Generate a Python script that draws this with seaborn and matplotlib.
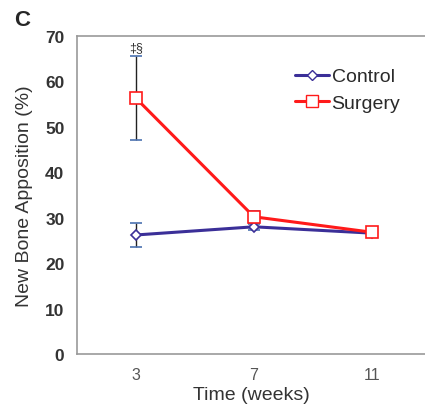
import matplotlib
matplotlib.use("Agg")
import matplotlib.pyplot as plt
import seaborn as sns
import pandas as pd
from matplotlib.lines import Line2D

weeks = [3, 7, 11]
control = [26.2, 28.0, 26.6]
control_err = [2.6, 0.6, 0.5]
surgery = [56.3, 30.2, 26.8]
surgery_err = [9.2, 1.3, 0.5]
x_ticks = [3, 7, 11]
y_ticks = [0, 10, 20, 30, 40, 50, 60, 70]

sns.set_theme(style="white")
plt.rcParams['font.family'] = ['Liberation Sans', 'DejaVu Sans']

df = pd.DataFrame({
    "Time": weeks * 2,
    "Value": control + surgery,
    "Group": ["Control"] * 3 + ["Surgery"] * 3,
})

fig = plt.figure(figsize=(4.25, 4.10), dpi=100)
ax = fig.add_axes([0.181, 0.134, 0.819, 0.776])

for vals, errs in [(control, control_err), (surgery, surgery_err)]:
    ax.errorbar(weeks, vals, yerr=errs, fmt="none", ecolor="#222222",
                elinewidth=1.0, capsize=4, capthick=1.0, zorder=1)

palette = {"Control": "#3b2f98", "Surgery": "#ff1a1a"}
sns.lineplot(data=df, x="Time", y="Value", hue="Group", style="Group",
             markers={"Control": "D", "Surgery": "s"}, dashes=False,
             palette=palette, linewidth=2.2, ax=ax, legend=False, zorder=3)
for line in ax.get_lines():
    c = line.get_color()
    if line.get_marker() == "D":
        line.set_markersize(5.5)
    elif line.get_marker() == "s":
        line.set_markersize(8.5)
    line.set_markerfacecolor("white")
    line.set_markeredgecolor(c)
    line.set_markeredgewidth(1.2)

handles = [
    Line2D([], [], color=palette["Control"], marker="D", markersize=5.5,
           markerfacecolor="white", markeredgecolor=palette["Control"], lw=2.2),
    Line2D([], [], color=palette["Surgery"], marker="s", markersize=8.5,
           markerfacecolor="white", markeredgecolor=palette["Surgery"], lw=2.2),
]
leg = ax.legend(handles, ["Control", "Surgery"], loc="upper left",
                bbox_to_anchor=(0.575, 0.955), frameon=False, fontsize=14,
                handlelength=1.75, handletextpad=0.15, labelspacing=0.45)
for t in leg.get_texts():
    t.set_color("#2a2a2a")

ax.set_xlim(1, 12.8)
ax.set_ylim(0, 70)
ax.set_xticks(x_ticks)
ax.set_yticks(y_ticks)
ax.tick_params(axis="x", labelsize=11.5, labelcolor="#555555", length=0, pad=9)
ax.tick_params(axis="y", labelsize=12.5, labelcolor="#333333", length=0, pad=9)
for lab in ax.get_yticklabels():
    lab.set_fontweight("bold")
ax.set_xlabel("Time (weeks)", fontsize=14, color="#333333", labelpad=3)
ax.set_ylabel("New Bone Apposition (%)", fontsize=14, color="#333333", labelpad=9)

for s in ["left", "bottom", "top"]:
    ax.spines[s].set_color("#999999")
    ax.spines[s].set_linewidth(1.2)
ax.spines["right"].set_visible(False)

ax.text(3, 66.2, "‡§", ha="center", va="bottom", fontsize=9, color="#333333")
fig.text(0.052, 0.95, "C", fontsize=16, fontweight="bold", ha="center", va="center")

fig.savefig("out.png", dpi=100)
